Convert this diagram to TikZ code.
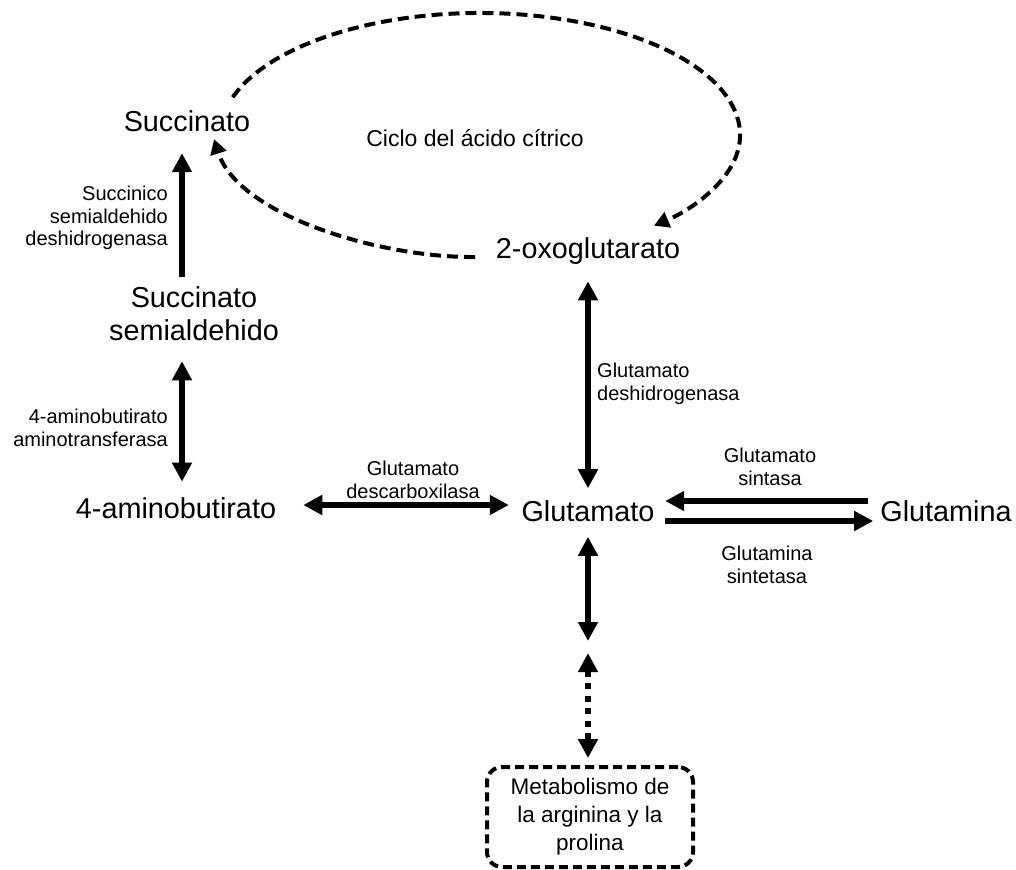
\documentclass[tikz,border=0pt]{standalone}
\usepackage{fontspec}
\setmainfont{Liberation Sans}
\usetikzlibrary{arrows.meta}
\newcommand\bigf{\fontsize{28.8}{33}\selectfont}
\newcommand\smallf{\fontsize{20}{22.5}\selectfont}
\newcommand\midf{\fontsize{23}{28}\selectfont}
\newcommand\boxf{\fontsize{22.5}{28}\selectfont}
\begin{document}
\begin{tikzpicture}[x=1pt,y=1pt,
  lab/.style={font=\bigf, inner sep=0pt, align=center},
  enz/.style={font=\smallf, inner sep=0pt},
  tipA/.tip={Triangle[length=19pt,width=19pt]},
  arr/.style={line width=5.5pt, -tipA},
  darr/.style={line width=5.5pt, tipA-tipA},
  dotarr/.style={line width=5.5pt, dash pattern=on 6pt off 6.5pt, tipA-tipA},
  cyc/.style={line width=4pt, dash pattern=on 11pt off 6pt, -{Triangle[length=15pt,width=16pt]}},
  metabox/.style={draw, line width=4pt, dash pattern=on 9pt off 5pt, rounded corners=15pt, minimum width=206pt, minimum height=100pt, align=center, font=\boxf, inner sep=0pt}
]
\useasboundingbox (0,0) rectangle (1016,-869);

% nodes
\node[lab] (succ) at (187,-121) {Succinato};
\node[font=\midf, inner sep=0pt] (ciclo) at (475,-138) {Ciclo del ácido cítrico};
\node[lab] (oxo) at (588,-251) {2-oxoglutarato};
\node[lab] (ssa) at (194,-314) {Succinato\\semialdehido};
\node[lab] (gaba) at (176,-508) {4-aminobutirato};
\node[lab] (glu) at (588,-511) {Glutamato};
\node[lab] (gln) at (946,-511) {Glutamina};
\node[metabox] (meta) at (590,-817) {Metabolismo de\\la arginina y la\\prolina};
\coordinate (mid) at (588,-647);

% enzyme labels
\node[enz, align=right, anchor=east] (e1) at (168,-218) {Succinico\\semialdehido\\deshidrogenasa};
\node[enz, align=right, anchor=east] (e2) at (168,-428) {4-aminobutirato\\aminotransferasa};
\node[enz, align=center] (e3) at (413,-480) {Glutamato\\descarboxilasa};
\node[enz, align=left, anchor=west] (e4) at (597,-384) {Glutamato\\deshidrogenasa};
\node[enz, align=center] (e5) at (770,-467) {Glutamato\\sintasa};
\node[enz, align=center] (e6) at (767,-565) {Glutamina\\sintetasa};

% citric acid cycle
\coordinate (cyc1) at (232.7,-97.3);
\coordinate (cyc2) at (475,-257);
\coordinate (cyc3) at (214,-139);
\draw[cyc] (cyc1) arc[start angle=162, end angle=-48, x radius=260pt, y radius=122pt];
\draw[cyc] (cyc2) .. controls (380,-258) and (238,-215) .. (cyc3);

% connectors
\draw[arr, shorten <=10pt, shorten >=21.4pt] ([xshift=-12pt]ssa.north) -- ([xshift=-12pt]ssa.north |- succ.south);
\draw[darr, shorten <=20pt, shorten >=15.6pt] ([xshift=-12pt]ssa.south) -- ([xshift=-12pt]ssa.south |- gaba.north);
\draw[darr, shorten <=27pt, shorten >=12.6pt] ([yshift=3pt]gaba.east) -- ([yshift=3pt]gaba.east -| glu.west);
\draw[darr, shorten <=16.7pt, shorten >=12pt] (oxo.south) -- (glu.north);
\draw[arr, shorten <=12pt, shorten >=10.6pt] ([yshift=10pt]gln.west) -- ([yshift=10pt]glu.east);
\draw[arr, shorten <=10.6pt, shorten >=7pt] ([yshift=-10pt]glu.east) -- ([yshift=-10pt]gln.west);
\draw[darr, shorten <=15pt, shorten >=6pt] (glu.south) -- (mid);
\draw[dotarr, shorten <=6pt, shorten >=7pt] (mid) -- (mid |- meta.north);
\end{tikzpicture}
\end{document}
